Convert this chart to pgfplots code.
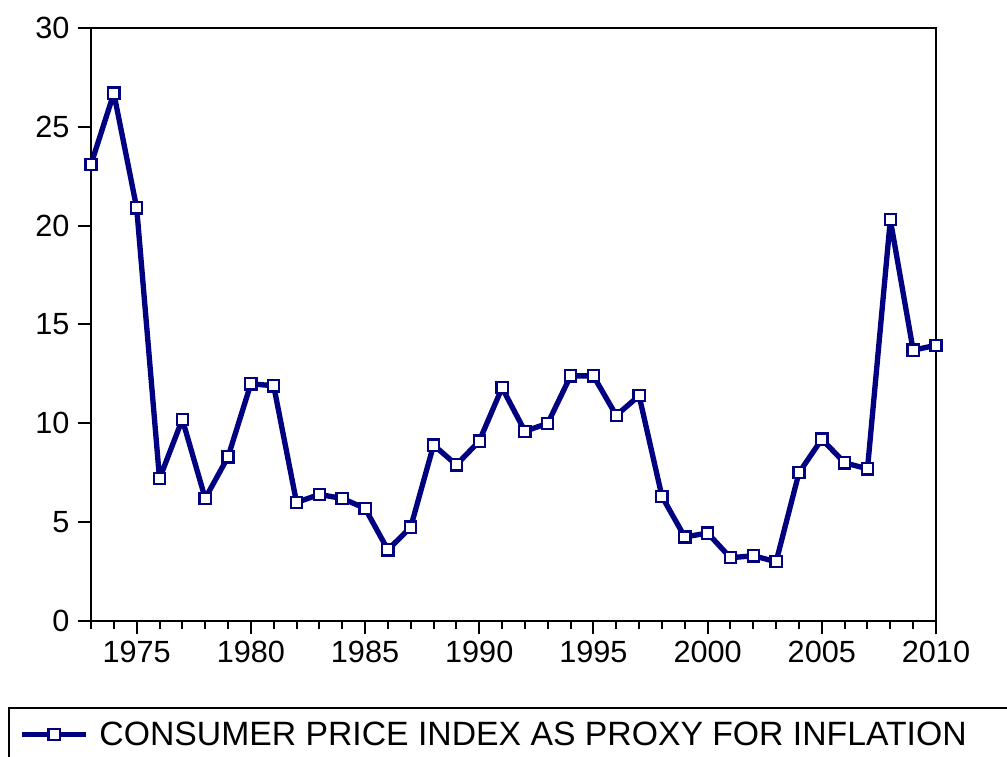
\documentclass[border=0pt]{standalone}
\usepackage{fontspec}
\setmainfont{Liberation Sans}
\usepackage{pgfplots}
\pgfplotsset{compat=1.18}
\definecolor{navy}{RGB}{0,0,128}
\begin{document}
\begin{tikzpicture}
\begin{axis}[
  scale only axis,
  width=633.75pt, height=444.75pt,
  xmin=1973, xmax=2010, ymin=0, ymax=30,
  xtick={1975,1980,...,2010},
  minor xtick={1973,...,2010},
  ytick={0,5,...,30},
  tick pos=left,
  tick align=outside,
  major tick length=10pt,
  minor tick length=6pt,
  every tick/.style={black, line width=1.5pt},
  axis line style={black, line width=1.6pt},
  /pgf/number format/assume math mode=true,
  /pgf/number format/1000 sep={},
  tick label style={font=\fontsize{23}{27}\selectfont},
  yticklabel style={inner xsep=6pt},
  xticklabel style={inner ysep=5pt},
  legend style={at={(axis description cs:-0.0982,-0.145)}, anchor=north west,
    draw=black, line width=1.2pt, inner xsep=8pt, inner ysep=8.5pt,
    font=\fontsize{25.3}{29}\selectfont},
  legend cell align=left,
  legend image code/.code={\draw[mark repeat=2,mark phase=2,#1] plot coordinates {(0pt,0pt) (24pt,0pt) (48pt,0pt)};},
]
\addplot[navy, line width=4pt, line join=round, mark=square*, mark size=4.2pt,
  mark options={solid, fill=white, draw=navy, line width=1.7pt, line join=miter}]
  coordinates {
  (1973,23.1) (1974,26.7) (1975,20.9) (1976,7.2) (1977,10.2) (1978,6.2)
  (1979,8.3) (1980,12.0) (1981,11.9) (1982,6.0) (1983,6.4) (1984,6.2)
  (1985,5.7) (1986,3.6) (1987,4.75) (1988,8.9) (1989,7.9) (1990,9.1)
  (1991,11.8) (1992,9.6) (1993,10.0) (1994,12.4) (1995,12.4) (1996,10.4)
  (1997,11.4) (1998,6.3) (1999,4.25) (2000,4.45) (2001,3.2) (2002,3.3)
  (2003,3.0) (2004,7.5) (2005,9.2) (2006,8.0) (2007,7.7) (2008,20.3)
  (2009,13.7) (2010,13.95)
  };
\addlegendentry{\hspace*{6pt}CONSUMER PRICE INDEX AS PROXY FOR INFLATION\hspace*{60pt}}
\end{axis}
\pgfresetboundingbox
\useasboundingbox (-68.25pt,-102pt) rectangle (687pt,465.75pt);
\end{tikzpicture}
\end{document}
